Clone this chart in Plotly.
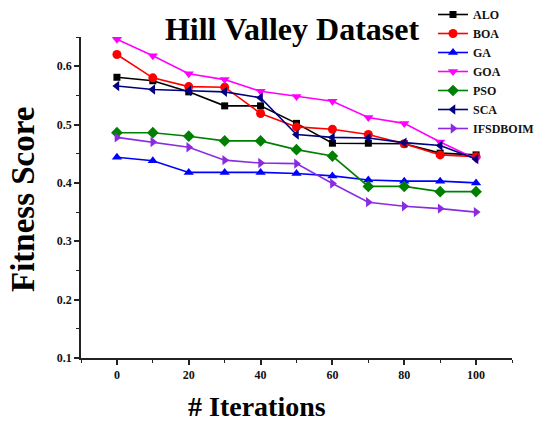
import plotly.graph_objects as go

iterations = [0, 10, 20, 30, 40, 50, 60, 70, 80, 90, 100]

alo = [0.581, 0.575, 0.556, 0.532, 0.532, 0.502, 0.468, 0.468, 0.467, 0.451, 0.448]
boa = [0.620, 0.580, 0.565, 0.564, 0.519, 0.496, 0.492, 0.483, 0.467, 0.448, 0.445]
ga = [0.444, 0.438, 0.418, 0.418, 0.418, 0.416, 0.412, 0.405, 0.403, 0.403, 0.400]
goa = [0.646, 0.618, 0.587, 0.577, 0.557, 0.548, 0.540, 0.512, 0.502, 0.470, 0.441]
pso = [0.486, 0.486, 0.480, 0.472, 0.472, 0.457, 0.446, 0.394, 0.394, 0.385, 0.385]
sca = [0.566, 0.560, 0.558, 0.556, 0.546, 0.483, 0.478, 0.477, 0.469, 0.464, 0.441]
ifsdboim = [0.478, 0.470, 0.461, 0.439, 0.434, 0.433, 0.399, 0.367, 0.360, 0.356, 0.350]

series_names = ["ALO", "BOA", "GA", "GOA", "PSO", "SCA", "IFSDBOIM"]
series_values = [alo, boa, ga, goa, pso, sca, ifsdboim]
colors = ["#000000", "#ff0000", "#0000ff", "#ff00ff", "#008000", "#000080", "#8a2be2"]
symbols = ["square", "circle", "triangle-up", "triangle-down", "diamond", "triangle-left", "triangle-right"]
sizes = [7, 9, 9, 9, 9, 9, 9]

x_ticks = [0, 20, 40, 60, 80, 100]
y_ticks = [0.1, 0.2, 0.3, 0.4, 0.5, 0.6]

FONT = "Liberation Serif, Times New Roman, serif"

fig = go.Figure()
for name, vals, c, s, sz in zip(series_names, series_values, colors, symbols, sizes):
    fig.add_trace(go.Scatter(
        x=iterations, y=vals, name=name, mode="lines+markers",
        line=dict(color=c, width=1.6),
        marker=dict(symbol=s, size=sz, color=c),
    ))

W, H = 536, 423
L, R, T, B = 81, 24, 37, 65
pw, ph = W - L - R, H - T - B

def px_x(p):
    return (p - L) / pw

def px_y(p):
    return (H - B - p) / ph

fig.update_layout(
    width=W, height=H,
    margin=dict(l=L, r=R, t=T, b=B, autoexpand=False),
    paper_bgcolor="white", plot_bgcolor="white",
    font=dict(family=FONT, color="#111111", size=12, weight="bold"),
    title=dict(text="Hill Valley Dataset", x=px_x(292), xref="paper", xanchor="center",
               y=1 - 29 / H, yref="container", yanchor="middle",
               font=dict(family=FONT, size=32, weight="bold", color="#000000")),
    showlegend=True,
    legend=dict(x=433 / W, y=1.0, xref="container", yref="container",
                xanchor="left", yanchor="top",
                bgcolor="rgba(0,0,0,0)", font=dict(family=FONT, size=12, weight="bold"),
                tracegroupgap=0),
    xaxis=dict(range=[-10, 110], tickvals=x_ticks, showgrid=False, zeroline=False,
               showline=True, linecolor="#222222", linewidth=1.5,
               ticks="outside", ticklen=5, tickwidth=1.5, tickcolor="#222222",
               tickfont=dict(family=FONT, size=12, weight="bold"),
               minor=dict(dtick=10, tick0=0, ticks="outside", ticklen=3, tickwidth=1.2, tickcolor="#222222")),
    yaxis=dict(range=[0.1, 0.65], tickvals=y_ticks, tickformat=".1f", showgrid=False, zeroline=False,
               showline=True, linecolor="#222222", linewidth=1.5,
               ticks="outside", ticklen=5, tickwidth=1.5, tickcolor="#222222",
               tickfont=dict(family=FONT, size=12, weight="bold"),
               minor=dict(dtick=0.05, tick0=0.1, ticks="outside", ticklen=3, tickwidth=1.2, tickcolor="#222222")),
    annotations=[
        dict(text="# Iterations", xref="paper", yref="paper", x=px_x(257), y=px_y(407),
             xanchor="center", yanchor="middle", showarrow=False,
             font=dict(family=FONT, size=28, weight="bold", color="#000000")),
        dict(text="Fitness Score", xref="paper", yref="paper", x=px_x(23), y=px_y(200),
             xanchor="center", yanchor="middle", showarrow=False, textangle=-90,
             font=dict(family=FONT, size=33, weight="bold", color="#000000")),
    ],
)

fig.write_html("out.html")
